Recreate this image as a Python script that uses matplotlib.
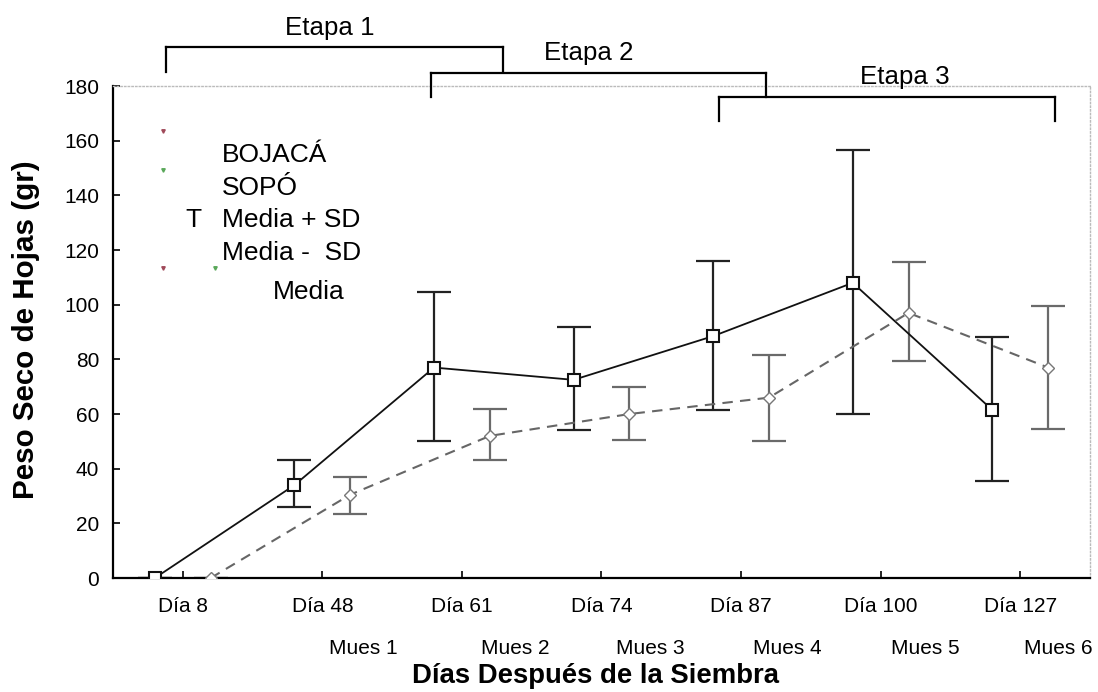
import matplotlib
matplotlib.use("Agg")
from matplotlib import pyplot as plt
from matplotlib.lines import Line2D
import numpy as np

plt.rcParams['font.family'] = ['Liberation Sans', 'DejaVu Sans']

# datos
dias = ["Día 8", "Día 48", "Día 61", "Día 74", "Día 87", "Día 100", "Día 127"]
muestras = ["Mues 1", "Mues 2", "Mues 3", "Mues 4", "Mues 5", "Mues 6"]

bojaca_media = [0, 34, 77, 72.5, 88.5, 108, 61.5]
bojaca_sup = [0, 43, 104.5, 92, 116, 156.5, 88]
bojaca_inf = [0, 26, 50, 54, 61.5, 60, 35.5]

sopo_media = [0, 30.5, 52, 60, 66, 97, 77]
sopo_sup = [0, 37, 62, 70, 81.5, 115.5, 99.5]
sopo_inf = [0, 23.5, 43, 50.5, 50, 79.5, 54.5]

fig = plt.figure(figsize=(10.98, 6.92), dpi=100)
ax = fig.add_axes([0.1029, 0.1647, 0.8898, 0.711])

x = np.arange(len(dias))
xb = x - 0.2
xs = x + 0.2

err_b = [np.array(bojaca_media) - np.array(bojaca_inf), np.array(bojaca_sup) - np.array(bojaca_media)]
err_s = [np.array(sopo_media) - np.array(sopo_inf), np.array(sopo_sup) - np.array(sopo_media)]

ax.errorbar(xb, bojaca_media, yerr=err_b, fmt='none', ecolor='#222222', elinewidth=1.6,
            capsize=12, capthick=1.6, zorder=2)
ax.errorbar(xs, sopo_media, yerr=err_s, fmt='none', ecolor='#6a6a6a', elinewidth=1.6,
            capsize=12, capthick=1.6, zorder=2)

ax.plot(xb, bojaca_media, color='#111111', lw=1.3, marker='s', ms=9, mfc='white',
        mec='#111111', mew=1.5, zorder=3)
ax.plot(xs, sopo_media, color='#666666', lw=1.5, ls=(0, (5, 3.5)), marker='D', ms=6.5,
        mfc='white', mec='#777777', mew=1.0, zorder=3)

ax.set_xlim(-0.5, 6.5)
ax.set_ylim(0, 180)
ax.set_xticks(x)
ax.set_xticklabels(dias)
ax.set_yticks(range(0, 181, 20))
ax.tick_params(axis='both', direction='in', length=5, width=1.2, labelsize=15)
ax.tick_params(axis='x', pad=14)
ax.tick_params(axis='y', pad=10)

for s in ['top', 'right']:
    ax.spines[s].set_color('#bbbbbb')
    ax.spines[s].set_linestyle(':')
    ax.spines[s].set_linewidth(1)
for s in ['left', 'bottom']:
    ax.spines[s].set_linewidth(1.6)

fig.text(26 / 1098, 1 - 330 / 692, "Peso Seco de Hojas (gr)", rotation=90, ha='center',
         va='center', fontsize=21.3, fontweight='bold')

# etiquetas de muestras
mues_x = [363, 515, 650, 787, 925, 1058]
for mx, m in zip(mues_x, muestras):
    fig.text(mx / 1098, 1 - 648 / 692, m, ha='center', va='center', fontsize=15)
fig.text(595 / 1098, 1 - 676 / 692, "Días Después de la Siembra", ha='center', va='center',
         fontsize=19.8, fontweight='bold')

# etapas
def px(xp, yp):
    return xp / 1098, 1 - yp / 692

def bracket(x0, x1, ytop, ybot, label, tx, ty):
    for (a, b) in [((x0, ytop), (x1, ytop)), ((x0, ytop), (x0, ybot)), ((x1, ytop), (x1, ybot))]:
        p, q = px(*a), px(*b)
        fig.add_artist(Line2D([p[0], q[0]], [p[1], q[1]], color='black', lw=1.6))
    fig.text(*px(tx, ty), label, ha='center', va='center', fontsize=18.6)

bracket(166, 503, 47, 72, "Etapa 1", 330, 28)
bracket(431, 766, 73, 97, "Etapa 2", 589, 53)
bracket(719, 1055, 97, 121, "Etapa 3", 905, 77)

# leyenda
fig.text(*px(222, 155), "BOJACÁ", ha='left', va='center', fontsize=19)
fig.text(*px(222, 188), "SOPÓ", ha='left', va='center', fontsize=19)
fig.text(*px(185, 220), "T", ha='left', va='center', fontsize=19)
fig.text(*px(222, 220), "Media + SD", ha='left', va='center', fontsize=19)
fig.text(*px(222, 253), "Media -  SD", ha='left', va='center', fontsize=19)
fig.text(*px(273, 292), "Media", ha='left', va='center', fontsize=19)
for (dx, dy, c) in [(163, 131, '#a04a5a'), (163, 170, '#5aa85a'), (163, 268, '#a04a5a'), (215, 268, '#5aa85a')]:
    p = px(dx, dy)
    fig.add_artist(Line2D([p[0]], [p[1]], marker='v', ms=2.5, color=c, lw=0))

plt.savefig("out.png", dpi=100)
